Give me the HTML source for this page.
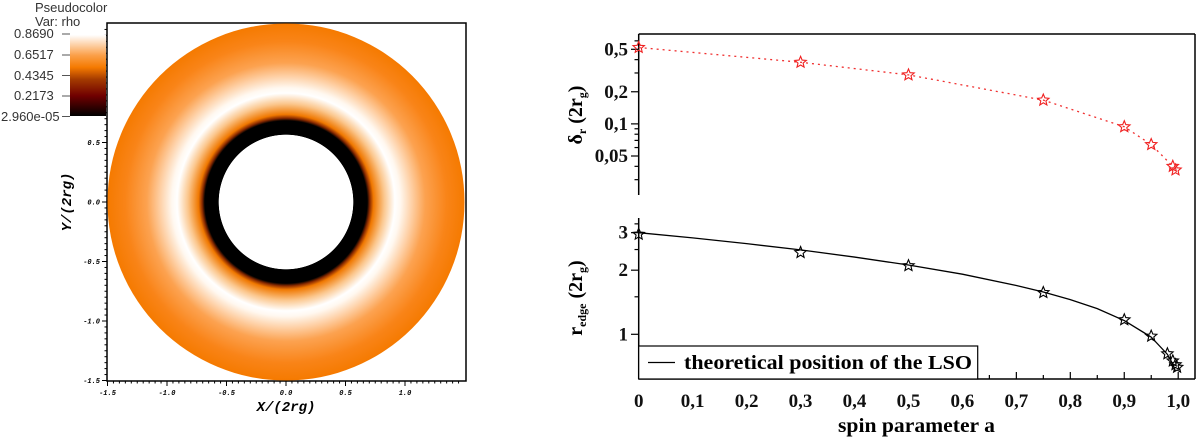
<!DOCTYPE html>
<html><head><meta charset="utf-8"><style>
html,body{margin:0;padding:0;background:#fff;width:1200px;height:444px;overflow:hidden}
svg{display:block}
.ser{font-family:"Liberation Serif",serif;font-weight:bold}
.mono{font-family:"Liberation Mono",monospace;font-weight:bold;font-style:italic}
.sans{font-family:"Liberation Sans",sans-serif}
</style></head><body>
<svg id="fig" width="1200" height="444" viewBox="0 0 1200 444">
<defs>
<radialGradient id="rg" cx="286" cy="202" r="178.5" gradientUnits="userSpaceOnUse">
<stop offset="0" stop-color="#fff"/>
<stop offset="0.376" stop-color="#fff"/>
<stop offset="0.378" stop-color="#000"/>
<stop offset="0.455" stop-color="#000"/>
<stop offset="0.47" stop-color="#8a2a00"/>
<stop offset="0.49" stop-color="#f07800"/>
<stop offset="0.55" stop-color="#fbc68c"/>
<stop offset="0.61" stop-color="#fff"/>
<stop offset="0.64" stop-color="#fff8f0"/>
<stop offset="0.78" stop-color="#fca250"/>
<stop offset="0.9" stop-color="#f98418"/>
<stop offset="1" stop-color="#f57a00"/>
</radialGradient>
<linearGradient id="cb" x1="0" y1="0" x2="0" y2="1">
<stop offset="0" stop-color="#fff"/>
<stop offset="0.25" stop-color="#fba04a"/>
<stop offset="0.4" stop-color="#f57a00"/>
<stop offset="0.55" stop-color="#a33a00"/>
<stop offset="0.75" stop-color="#700000"/>
<stop offset="1" stop-color="#000"/>
</linearGradient>
</defs>

<!-- Left panel -->
<g>
<rect x="107" y="23" width="359" height="358" fill="#fff" stroke="#000" stroke-width="1.5"/>
<circle cx="286" cy="202" r="178.5" fill="url(#rg)"/>
<g id="lticks" stroke="#000" stroke-width="1"></g>
<g id="llabels" class="mono" font-size="7" fill="#000"></g>
<text x="286" y="411" class="mono" font-size="14" text-anchor="middle">X/(2rg)</text>
<text transform="translate(71,202) rotate(-90)" class="mono" font-size="14" text-anchor="middle">Y/(2rg)</text>
<rect x="70" y="35" width="36" height="81" fill="url(#cb)"/>
<g class="sans" font-size="13" fill="#333">
<text x="35" y="12">Pseudocolor</text>
<text x="35" y="26">Var: rho</text>
<text x="14" y="38">0.8690</text><line x1="62" y1="34" x2="70" y2="34" stroke="#555"/>
<text x="14" y="59">0.6517</text><line x1="62" y1="55" x2="70" y2="55" stroke="#555"/>
<text x="14" y="80">0.4345</text><line x1="62" y1="75.5" x2="70" y2="75.5" stroke="#555"/>
<text x="14" y="100">0.2173</text><line x1="62" y1="96" x2="70" y2="96" stroke="#555"/>
<text x="1" y="121">2.960e-05</text><line x1="62" y1="116.5" x2="70" y2="116.5" stroke="#555"/>
</g>
</g>

<!-- Right panel -->
<g id="right">
<line x1="638.7" y1="34" x2="1195" y2="34" stroke="#000" stroke-width="1.5"/>
<line x1="1195" y1="34" x2="1195" y2="379" stroke="#000" stroke-width="1.5"/>
<line x1="638.7" y1="34" x2="638.7" y2="195" stroke="#000" stroke-width="1.5"/>
<line x1="638.7" y1="218" x2="638.7" y2="379" stroke="#000" stroke-width="1.5"/>
<line x1="638.7" y1="379" x2="1195" y2="379" stroke="#000" stroke-width="1.5"/>
<g id="rticks" stroke="#000" stroke-width="1.2"></g>
<g id="rlabels" class="ser" font-size="19" fill="#111"></g>
<g id="series"></g>
<rect x="638.7" y="346" width="339" height="33" fill="#fff" stroke="#000" stroke-width="1.2"/>
<line x1="648" y1="362.5" x2="675" y2="362.5" stroke="#000" stroke-width="1.2"/>
<text x="684" y="369" class="ser" font-size="20" textLength="288" lengthAdjust="spacingAndGlyphs">theoretical position of the LSO</text>
<text x="838" y="432" class="ser" font-size="20" textLength="157" lengthAdjust="spacingAndGlyphs">spin parameter a</text>
<text transform="translate(582,115) rotate(-90)" class="ser" font-size="20" text-anchor="middle">δ<tspan font-size="12" dy="4">r</tspan><tspan dy="-4"> (2r</tspan><tspan font-size="12" dy="4">g</tspan><tspan dy="-4">)</tspan></text>
<text transform="translate(582,298) rotate(-90)" class="ser" font-size="20" text-anchor="middle">r<tspan font-size="12" dy="4">edge</tspan><tspan dy="-4"> (2r</tspan><tspan font-size="12" dy="4">g</tspan><tspan dy="-4">)</tspan></text>
</g>
</svg>
<script>
const NS='http://www.w3.org/2000/svg';
const spinDelta=[0,0.3,0.5,0.75,0.9,0.95,0.99,0.995];
const deltaVals=[0.52,0.378,0.288,0.167,0.094,0.064,0.040,0.037];
const spinEdge=[0,0.3,0.5,0.75,0.9,0.95,0.98,0.99,0.995,0.998];
const edgeVals=[2.95,2.42,2.10,1.57,1.17,0.98,0.81,0.75,0.72,0.70];
const lsoSpin=[0,0.1,0.2,0.3,0.4,0.5,0.6,0.7,0.75,0.8,0.85,0.9,0.95,0.98,0.99,0.995];
const lsoVals=[3,2.835,2.665,2.49,2.305,2.115,1.915,1.695,1.58,1.455,1.32,1.16,0.97,0.805,0.725,0.67];
const xTicks=[0,0.1,0.2,0.3,0.4,0.5,0.6,0.7,0.8,0.9,1.0];
const xTickLabels=['0','0,1','0,2','0,3','0,4','0,5','0,6','0,7','0,8','0,9','1,0'];
const topTicks=[0.5,0.2,0.1,0.05];
const topTickLabels=['0,5','0,2','0,1','0,05'];
const botTicks=[3,2,1];
const botTickLabels=['3','2','1'];
const mapTicks=[-1.5,-1.0,-0.5,0.0,0.5,1.0];
const mapTickLabels=['-1.5','-1.0','-0.5','0.0','0.5','1.0'];

const X=a=>638.7+a*539.5;
const YT=v=>49.3-Math.log10(v/0.5)*106.7;
const YB=v=>334.3-Math.log10(v)*213;
const MX=v=>286+v*119;
const MY=v=>202-v*119;

function mk(tag,attrs,parent){const e=document.createElementNS(NS,tag);for(const k in attrs)e.setAttribute(k,attrs[k]);parent.appendChild(e);return e;}
const rt=document.getElementById('rticks'),rl=document.getElementById('rlabels'),ser=document.getElementById('series');
const lt=document.getElementById('lticks'),ll=document.getElementById('llabels');

xTicks.forEach((a,i)=>{
  const t=mk('line',{x1:X(a),y1:379,x2:X(a),y2:372},rt);
  
  
  if(i<10){const m=mk('line',{x1:X(a+0.05),y1:379,x2:X(a+0.05),y2:375},rt);}
  const l=mk('text',{x:X(a),y:407,'text-anchor':'middle'},rl);l.textContent=xTickLabels[i];
  
  
});
topTicks.forEach((v,i)=>{
  const t=mk('line',{x1:631,y1:YT(v),x2:638.7,y2:YT(v)},rt);
  
  
  const l=mk('text',{x:628,y:YT(v)+6,'text-anchor':'end'},rl);l.textContent=topTickLabels[i];
  
  
});
[0.6,0.4,0.3,0.09,0.08,0.07,0.06,0.04,0.03].forEach(v=>{
  const m=mk('line',{x1:634.5,y1:YT(v),x2:638.7,y2:YT(v)},rt);
  
  
});
botTicks.forEach((v,i)=>{
  const t=mk('line',{x1:631,y1:YB(v),x2:638.7,y2:YB(v)},rt);
  
  
  const l=mk('text',{x:628,y:YB(v)+6,'text-anchor':'end'},rl);l.textContent=botTickLabels[i];
  
  
});
[3.3,2.5,1.5].forEach(v=>{
  const m=mk('line',{x1:634.5,y1:YB(v),x2:638.7,y2:YB(v)},rt);
  
  
});

function star(cx,cy,r,col,parent,name){
  let p='';for(let k=0;k<10;k++){const rr=k%2?r*0.45:r;const ang=-Math.PI/2+k*Math.PI/5;p+=(k?'L':'M')+(cx+rr*Math.cos(ang)).toFixed(1)+','+(cy+rr*Math.sin(ang)).toFixed(1);}
  const s=mk('path',{d:p+'Z',fill:'none',stroke:col,'stroke-width':1.1},parent);
  
  
}
const dl=mk('path',{d:spinDelta.map((a,i)=>(i?'L':'M')+X(a)+','+YT(deltaVals[i])).join(''),fill:'none',stroke:'#f03030','stroke-width':1.3,'stroke-dasharray':'2,4'},ser);


spinDelta.forEach((a,i)=>star(X(a),YT(deltaVals[i]),6,'#f02020',ser,'delta-r-point'));
const ll2=mk('path',{d:lsoSpin.map((a,i)=>(i?'L':'M')+X(a)+','+YB(lsoVals[i])).join(''),fill:'none',stroke:'#000','stroke-width':1.3},ser);


spinEdge.forEach((a,i)=>star(X(a),YB(edgeVals[i]),6,'#000',ser,'r-edge-point'));

mapTicks.forEach((v,i)=>{
  const tx=mk('line',{x1:MX(v),y1:381,x2:MX(v),y2:386},lt);
  
  
  const ty=mk('line',{x1:102,y1:MY(v),x2:107,y2:MY(v)},lt);
  
  
  const lx=mk('text',{x:MX(v),y:395,'text-anchor':'middle'},ll);lx.textContent=mapTickLabels[i];
  
  
  const ly=mk('text',{x:100,y:MY(v)+2.5,'text-anchor':'end'},ll);ly.textContent=mapTickLabels[i];
  
  
});
for(let v=-1.5;v<=1.5;v+=0.05){
  mk('line',{x1:MX(v),y1:381,x2:MX(v),y2:383.5},lt);
  mk('line',{x1:104.5,y1:MY(v),x2:107,y2:MY(v)},lt);
}
</script>
</body></html>
